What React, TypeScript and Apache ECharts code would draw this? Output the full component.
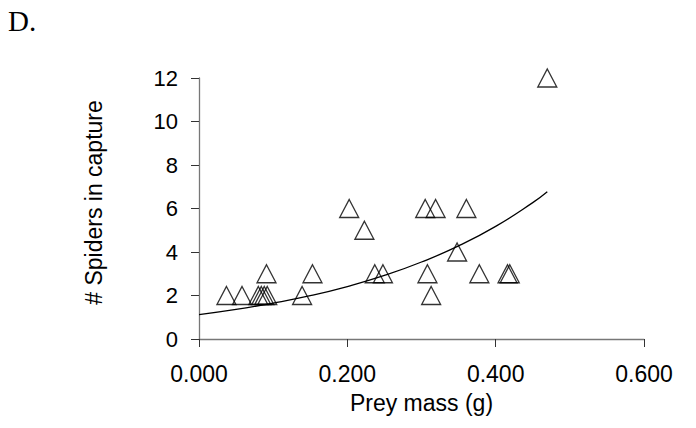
import React, { useEffect, useRef } from "react";
import * as echarts from "echarts";

const preyMass = [0.037, 0.058, 0.080, 0.084, 0.088, 0.092, 0.091, 0.139, 0.153, 0.2025, 0.223, 0.237, 0.248, 0.305, 0.319, 0.308, 0.313, 0.348, 0.3605, 0.378, 0.416, 0.419, 0.4696];
const spiders = [2, 2, 2, 2, 2, 2, 3, 2, 3, 6, 5, 3, 3, 6, 6, 3, 2, 4, 6, 3, 3, 3, 12];

const trendX = [0, 0.05, 0.1, 0.15, 0.2, 0.25, 0.3, 0.35, 0.4, 0.45, 0.4696];
const trendY = [1.12, 1.36, 1.65, 1.99, 2.41, 2.92, 3.54, 4.28, 5.18, 6.27, 6.77];

const xTicks = ["0.000", "0.200", "0.400", "0.600"];

export default function App() {
  const ref = useRef<HTMLDivElement>(null);
  useEffect(() => {
    if (!ref.current) return;
    const chart = echarts.init(ref.current, null, { renderer: "svg" });
    const font = "'Liberation Sans', Arial, sans-serif";
    chart.setOption({
      animation: false,
      backgroundColor: "#ffffff",
      graphic: [
        {
          type: "text",
          left: 8,
          top: 6,
          style: { text: "D.", font: "29px 'Liberation Serif', 'Times New Roman', serif", fill: "#000" },
        },
      ],
      grid: { left: 199, right: 52, top: 78, bottom: 89 },
      xAxis: {
        type: "value",
        min: 0,
        max: 0.6,
        interval: 0.2,
        name: "Prey mass (g)",
        nameLocation: "middle",
        nameGap: 52,
        nameTextStyle: { fontFamily: font, fontSize: 23, color: "#000" },
        axisLine: { lineStyle: { color: "#777", width: 1.3 } },
        axisTick: { show: true, length: 8, lineStyle: { color: "#333" } },
        splitLine: { show: false },
        axisLabel: {
          fontFamily: font,
          fontSize: 23,
          color: "#000",
          margin: 23,
          formatter: (v: number) => xTicks[Math.round(v / 0.2)] ?? v.toFixed(3),
        },
      },
      yAxis: {
        type: "value",
        min: 0,
        max: 12,
        interval: 2,
        name: "# Spiders in capture",
        nameLocation: "middle",
        nameGap: 94,
        nameTextStyle: { fontFamily: font, fontSize: 23, color: "#000", padding: [0, 0, 0, 12] },
        axisLine: { show: true, lineStyle: { color: "#777", width: 1.3 } },
        axisTick: { show: true, length: 8, lineStyle: { color: "#333" } },
        splitLine: { show: false },
        axisLabel: { fontFamily: font, fontSize: 22, color: "#000", margin: 21 },
      },
      series: [
        {
          type: "line",
          data: trendX.map((x, i) => [x, trendY[i]]),
          smooth: true,
          symbol: "circle",
          symbolSize: 3,
          showSymbol: false,
          lineStyle: { color: "#000", width: 1.3 },
          itemStyle: { color: "#000" },
          z: 2,
        },
        {
          type: "scatter",
          data: preyMass.map((x, i) => [x, spiders[i]]),
          symbol: "triangle",
          symbolSize: [19, 18],
          itemStyle: { color: "rgba(0,0,0,0)", borderColor: "#000", borderWidth: 1.3 },
          z: 3,
        },
      ],
    });
    return () => chart.dispose();
  }, []);
  return <div ref={ref} style={{ width: 696, height: 428, position: "absolute", left: 0, top: 0 }} />;
}
